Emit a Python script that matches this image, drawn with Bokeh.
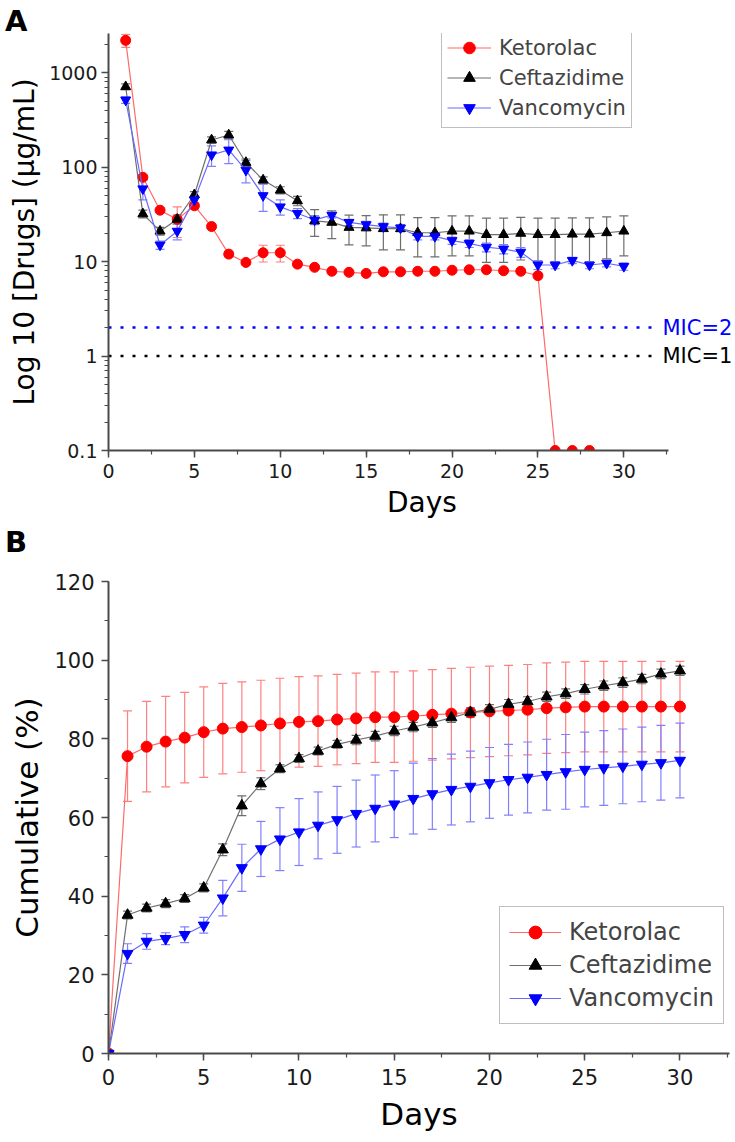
from bokeh.plotting import figure
from bokeh.models import (ColumnDataSource, Whisker, TeeHead, Label, FixedTicker, Div,
                          SingleIntervalTicker, CustomJSTickFormatter, Range1d)
from bokeh.layouts import column
from bokeh.embed import file_html
from bokeh.resources import INLINE

FONT = "DejaVu Sans"

# ---------------- Panel A data (log concentration) ----------------
days_a = list(range(1, 31))
ket_a = [2200, 78, 35, 28, 39, 23.5, 12, 9.8, 12.4, 12.4, 9.4, 8.7, 7.9, 7.7, 7.5,
         7.8, 7.8, 7.9, 7.9, 8.1, 8.2, 8.2, 8.0, 7.9, 7.1, 0.1, 0.1, 0.1]
ket_a_err = [350, 5, 2, 10, 3, 1, 0.8, 0.5, 2.5, 2.5, 0.6, 0.4, 0.3, 0.3, 0.3,
             0.3, 0.3, 0.3, 0.3, 0.3, 0.3, 0.3, 0.3, 0.3, 0.3, 0, 0, 0]
cef_a = [710, 32, 21, 28, 51, 194, 219, 112, 73, 57, 44, 27, 26, 23, 22.7,
         22.3, 22.3, 20.2, 20.2, 21, 21, 19.3, 19.3, 19.9, 19.3, 19.3, 19.5, 19.5, 20.2, 21]
cef_a_err = [50, 3, 2, 3, 4, 15, 20, 10, 6, 5, 5, 8.5, 8.5, 8, 8,
             9, 9, 9, 9, 9.5, 9.5, 9.5, 9.5, 9.5, 9.5, 9.5, 9.5, 9.5, 9.5, 9.5]
van_a = [514, 59, 15, 21, 45, 135, 152, 93, 50, 38, 32.5, 27.6, 31, 26, 24.6,
         23.5, 22.7, 18.5, 18.5, 16.7, 15.6, 14.2, 13.6, 12.6, 9.25, 9.2, 10.3, 9.2, 9.6, 8.9]
van_a_err = [40, 14, 1.5, 4, 4, 33, 43, 25, 16, 7, 4, 3, 2, 2, 2,
             2, 2, 1.5, 1.5, 1.5, 1.5, 1.5, 1.5, 1.5, 1, 0.8, 0.8, 0.8, 0.8, 0.8]
mic_values = [2, 1]
mic_labels = ["MIC=2", "MIC=1"]
mic_colors = ["#0000ff", "#000000"]
log_ticks = [0.1, 1, 10, 100, 1000]

# ---------------- Panel B data (cumulative release) ----------------
days_b = list(range(0, 31))
ket_b = [0, 75.6, 78.0, 79.3, 80.3, 81.7, 82.6, 83.0, 83.4, 83.9, 84.3, 84.5, 84.9, 85.2, 85.5,
         85.5, 85.8, 86.1, 86.4, 86.7, 87.0, 87.2, 87.4, 87.8, 88.0, 88.2, 88.2, 88.2, 88.2, 88.2, 88.2]
ket_b_err = [0] + [11.5] * 30
cef_b = [0, 35.2, 37.0, 38.1, 39.4, 42.1, 51.8, 63.0, 68.6, 72.4, 75.0, 76.9, 78.6, 79.7, 80.7,
         82.0, 83.0, 84.1, 85.4, 86.7, 87.5, 88.8, 89.5, 90.7, 91.5, 92.6, 93.5, 94.3, 95.2, 96.5, 97.3]
cef_b_err = [0, 1, 1, 1, 1, 1, 1.5, 2.5, 1.5, 1, 1, 1, 1, 1.2, 1.2,
             1.2, 1.2, 1.2, 1.2, 1.2, 1.2, 1.2, 1.2, 1.2, 1.2, 1.2, 1.2, 1.2, 1.2, 1.2, 1.2]
van_b = [0, 25.4, 28.5, 29.2, 30.2, 32.6, 39.5, 47.2, 52.0, 54.5, 56.3, 58.0, 59.4, 61.0, 62.3,
         63.4, 64.8, 66.0, 67.1, 67.9, 68.8, 69.6, 70.2, 70.9, 71.6, 72.2, 72.6, 73.0, 73.5, 73.9, 74.5]
van_b_err = [0, 2.5, 2, 1.5, 2, 2, 4.5, 6, 7, 8, 8.5, 8.5, 8.5, 8.5, 8.5,
             8.5, 9, 9, 9, 9, 9, 9, 9, 9, 9.5, 9.5, 9.5, 9.5, 9.5, 9.5, 9.5]

series_names = ["Ketorolac", "Ceftazidime", "Vancomycin"]
marker_colors = ["#ff0000", "#000000", "#0000ff"]
line_colors = ["#ff6a6a", "#6e6e6e", "#6a6aff"]
err_colors = ["#ff8080", "#6e6e6e", "#8080ff"]
markers = ["circle", "triangle", "inverted_triangle"]

AXIS_COLOR = "#4a4a4a"
X_AXIS_END = 32.6        # where the drawn x axis stops
MIC_LINE_END = 31.9      # dotted MIC lines stop before their labels


def style_axes(p, tick_size, label_size):
    for ax in (p.xaxis[0], p.yaxis[0]):
        ax.axis_line_color = AXIS_COLOR
        ax.axis_line_width = 2
        ax.major_tick_line_color = AXIS_COLOR
        ax.minor_tick_line_color = AXIS_COLOR
        ax.major_tick_line_width = 1.5
        ax.minor_tick_line_width = 1.2
        ax.major_tick_in = 0
        ax.major_tick_out = 7
        ax.minor_tick_in = 0
        ax.minor_tick_out = 4
        ax.major_label_text_font = FONT
        ax.major_label_text_font_size = tick_size
        ax.major_label_text_color = "#1a1a1a"
        ax.axis_label_text_font = FONT
        ax.axis_label_text_font_size = label_size
        ax.axis_label_text_font_style = "normal"
        ax.axis_label_text_color = "#000000"
    p.xgrid.visible = False
    p.ygrid.visible = False
    p.outline_line_color = None


def add_series(p, x, ys, errs, size):
    for name, y, e, mc, lc, ec, mk in zip(series_names, ys, errs, marker_colors,
                                           line_colors, err_colors, markers):
        n = len(y)
        xs = x[:n]
        src = ColumnDataSource(dict(x=xs, y=y))
        wsrc = ColumnDataSource(dict(x=[a for a, b in zip(xs, e) if b > 0],
                                     lo=[v - b for v, b in zip(y, e) if b > 0],
                                     hi=[v + b for v, b in zip(y, e) if b > 0]))
        w = Whisker(base="x", lower="lo", upper="hi", source=wsrc, line_color=ec, line_width=1.2,
                    upper_head=TeeHead(size=9, line_color=ec, line_width=1.2),
                    lower_head=TeeHead(size=9, line_color=ec, line_width=1.2),
                    level="underlay")
        p.add_layout(w)
        p.line("x", "y", source=src, line_color=lc, line_width=1.2, legend_label=name)
        p.scatter("x", "y", source=src, marker=mk, size=size, fill_color=mc, line_color=mc,
                  legend_label=name)


def style_legend(p, loc, font_size, glyph_w, row_h, padding, spacing):
    lg = p.legend[0]
    lg.location = loc
    lg.margin = 0
    lg.label_text_font = FONT
    lg.label_text_font_size = font_size
    lg.glyph_width = glyph_w
    lg.glyph_height = row_h
    lg.label_height = row_h
    lg.label_standoff = 8
    lg.spacing = spacing
    lg.padding = padding
    lg.border_line_color = "#808080"
    lg.border_line_width = 1.5
    lg.background_fill_color = "#ffffff"
    lg.background_fill_alpha = 1


def panel_letter(letter, height, pad_top):
    return Div(text=letter, width=735, height=height,
               styles={"font-family": FONT, "font-size": "29px", "font-weight": "bold",
                       "line-height": "29px", "padding-top": f"{pad_top}px",
                       "padding-left": "5px", "color": "#000000", "margin": "0"})


# ---------------- Panel A ----------------
p1 = figure(frame_width=627, frame_height=417, x_range=Range1d(0, 36.5),
            y_range=Range1d(0.1, 2600), y_axis_type="log",
            output_backend="svg", toolbar_location=None,
            min_border_left=108, min_border_right=0, min_border_top=0, min_border_bottom=78)
p1.xaxis.axis_label = "Days"
p1.yaxis.axis_label = "Log 10 [Drugs] (\u00b5g/mL)"
p1.xaxis.ticker = SingleIntervalTicker(interval=5, num_minor_ticks=2)
p1.xaxis.bounds = (0, X_AXIS_END)
minor_log = [m * 10.0 ** k for k in range(-1, 4) for m in range(2, 10)]
p1.yaxis.ticker = FixedTicker(ticks=log_ticks, minor_ticks=minor_log)
p1.yaxis.formatter = CustomJSTickFormatter(code="return tick < 1 ? tick.toFixed(1) : tick.toFixed(0);")
style_axes(p1, "19px", "28px")
p1.xaxis.major_label_standoff = 6
p1.xaxis.axis_label_standoff = 5
p1.yaxis.major_label_standoff = 4
p1.yaxis.axis_label_standoff = 5

for mv, ml, mc in zip(mic_values, mic_labels, mic_colors):
    p1.segment(x0=[0], y0=[mv], x1=[MIC_LINE_END], y1=[mv], line_color=mc, line_width=2.5,
               line_dash="3 9")
    p1.add_layout(Label(x=554, y=mv, x_units="screen", y_units="data", text=ml,
                        text_color=mc, text_font=FONT, text_font_size="21px",
                        text_baseline="middle", text_align="left"))

add_series(p1, days_a, [ket_a, cef_a, van_a], [ket_a_err, cef_a_err, van_a_err], 10)
style_legend(p1, (333, 322), "21px", 44, 29, 5, 1)

# ---------------- Panel B ----------------
p2 = figure(frame_width=621, frame_height=472, x_range=Range1d(0, 32.6),
            y_range=Range1d(0, 120),
            output_backend="svg", toolbar_location=None,
            min_border_left=108, min_border_right=6, min_border_top=24, min_border_bottom=81)
p2.xaxis.axis_label = "Days"
p2.yaxis.axis_label = "Cumulative (%)"
p2.xaxis.ticker = SingleIntervalTicker(interval=5, num_minor_ticks=2)
p2.yaxis.ticker = SingleIntervalTicker(interval=20, num_minor_ticks=2)
style_axes(p2, "21px", "31px")
p2.xaxis.major_label_standoff = 8
p2.xaxis.axis_label_standoff = 8
p2.yaxis.major_label_standoff = 7
p2.yaxis.axis_label_standoff = 6

add_series(p2, days_b, [ket_b, cef_b, van_b], [ket_b_err, cef_b_err, van_b_err], 11)
style_legend(p2, (391, 29), "24px", 52, 32, 9, 1)

layout = column(panel_letter("A", 33, 7), p1, panel_letter("B", 29, 0), p2, spacing=0)
open("out.html", "w").write(file_html(layout, INLINE))
